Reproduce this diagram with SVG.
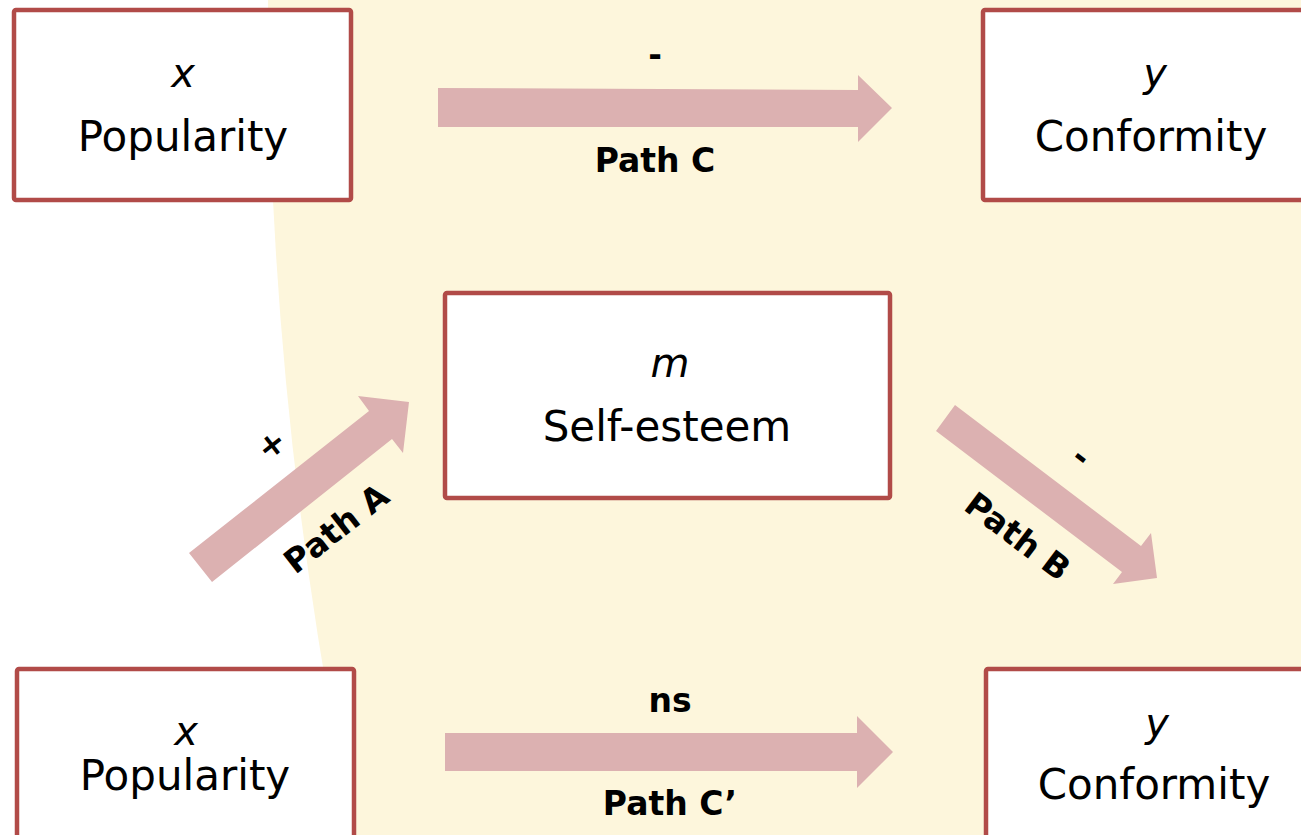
<svg xmlns="http://www.w3.org/2000/svg" width="1301" height="835" viewBox="0 0 1301 835">
  <style>
    .box { fill: #ffffff; stroke: #b14b48; stroke-width: 4.5; }
    .var { font-family: "DejaVu Sans", Verdana, sans-serif; font-style: italic; font-size: 40px; fill: #000; text-anchor: middle; }
    .name { font-family: "DejaVu Sans", Verdana, sans-serif; font-size: 42px; fill: #000; text-anchor: middle; }
    .lbl { font-family: "DejaVu Sans", Verdana, sans-serif; font-weight: bold; font-size: 33px; fill: #000; text-anchor: middle; }
    .arrow { fill: #dcb1b1; }
  </style>

  <!-- background panel with curved left edge -->
  <rect width="1301" height="835" fill="#ffffff"/>
  <path d="M268,0 Q268,417.5 354,835 L1301,835 L1301,0 Z" fill="#fdf6dc"/>

  <g id="connectors">
    <!-- Path C -->
    <polygon class="arrow" points="438,88 858,90 858,75 892,108 858,142 858,127 438,127"/>
    <!-- Path C' -->
    <polygon class="arrow" points="445,733 857,733 857,716 893,752 857,788 857,771 445,771"/>
    <!-- Path A -->
    <polygon class="arrow" points="189,553 369,411 358,396 409,402 403,453 392,439 212,582"/>
    <!-- Path B -->
    <polygon class="arrow" points="955,405 1141,546 1151,533 1157,578 1113,584 1122,572 936,431"/>
  </g>

  <g id="node-x-top">
    <rect class="box" x="14" y="10" width="337" height="190" rx="2"/>
    <text class="var" x="183" y="87">x</text>
    <text class="name" x="183" y="151">Popularity</text>
  </g>

  <g id="node-y-top">
    <rect class="box" x="983" y="10" width="330" height="190" rx="2"/>
    <text class="var" x="1155" y="87">y</text>
    <text class="name" x="1151" y="151">Conformity</text>
  </g>

  <g id="node-m">
    <rect class="box" x="445" y="293" width="445" height="205" rx="2"/>
    <text class="var" x="670" y="377">m</text>
    <text class="name" x="667" y="441">Self-esteem</text>
  </g>

  <g id="node-x-bottom">
    <rect class="box" x="17" y="669" width="337" height="190" rx="2"/>
    <text class="var" x="186" y="745">x</text>
    <text class="name" x="185" y="790">Popularity</text>
  </g>

  <g id="node-y-bottom">
    <rect class="box" x="986" y="669" width="330" height="190" rx="2"/>
    <text class="var" x="1157" y="737">y</text>
    <text class="name" x="1154" y="799">Conformity</text>
  </g>

  <g id="labels">
    <text class="lbl" x="655" y="66">-</text>
    <text class="lbl" x="655" y="172">Path C</text>
    <text class="lbl" x="670" y="712">ns</text>
    <text class="lbl" x="670" y="815">Path C’</text>
    <text class="lbl" transform="translate(271,444) rotate(-38)" y="12">+</text>
    <text class="lbl" transform="translate(336,528) rotate(-38)" y="12">Path A</text>
    <text class="lbl" transform="translate(1082,456) rotate(37)" y="12">-</text>
    <text class="lbl" transform="translate(1018,536) rotate(37)" y="12">Path B</text>
  </g>
</svg>
